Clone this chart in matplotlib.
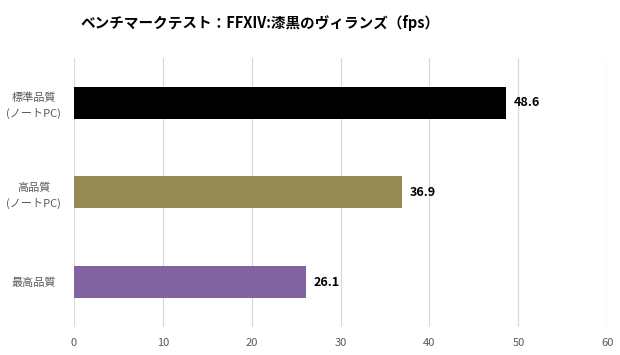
import matplotlib
matplotlib.use("Agg")
from matplotlib import pyplot as plt

plt.rcParams['font.family'] = ['Noto Sans CJK JP', 'DejaVu Sans']

categories = ['標準品質\n(ノートPC)', '高品質\n(ノートPC)', '最高品質']
values = [48.6, 36.9, 26.1]
colors = ['#000000', '#948A54', '#8064A2']
xticks = [0, 10, 20, 30, 40, 50, 60]
title = 'ベンチマークテスト：FFXIV:漆黒のヴィランズ（fps）'

fig = plt.figure(figsize=(6.2, 3.55), dpi=100)
ax = fig.add_axes([0.1194, 0.079, 0.860, 0.758])

ypos = list(range(len(categories)))
ax.barh(ypos, values, height=0.357, color=colors, zorder=3)
ax.set_ylim(len(categories) - 0.5, -0.5)
ax.set_xlim(0, 60)
ax.set_yticks(ypos)
ax.set_yticklabels(categories, fontsize=8, color='#595959', linespacing=1.5,
                   ha='center', multialignment='center')
ax.set_xticks(xticks)
ax.set_xticklabels([str(t) for t in xticks], fontsize=8, color='#595959')
ax.tick_params(axis='x', length=0, pad=8)
ax.tick_params(axis='y', length=0, pad=29)
ax.grid(axis='x', color='#D9D9D9', linewidth=0.9, zorder=0)
for s in ax.spines.values():
    s.set_visible(False)

for y, v in zip(ypos, values):
    ax.text(v + 0.9, y, f'{v:.1f}', va='center', ha='left',
            fontsize=9, fontweight='bold', color='#000000')

fig.text(260 / 620, 1 - 23 / 355, title, ha='center', va='center',
         fontsize=10.5, fontweight='bold', color='#000000')

fig.savefig('out.png', dpi=100)
